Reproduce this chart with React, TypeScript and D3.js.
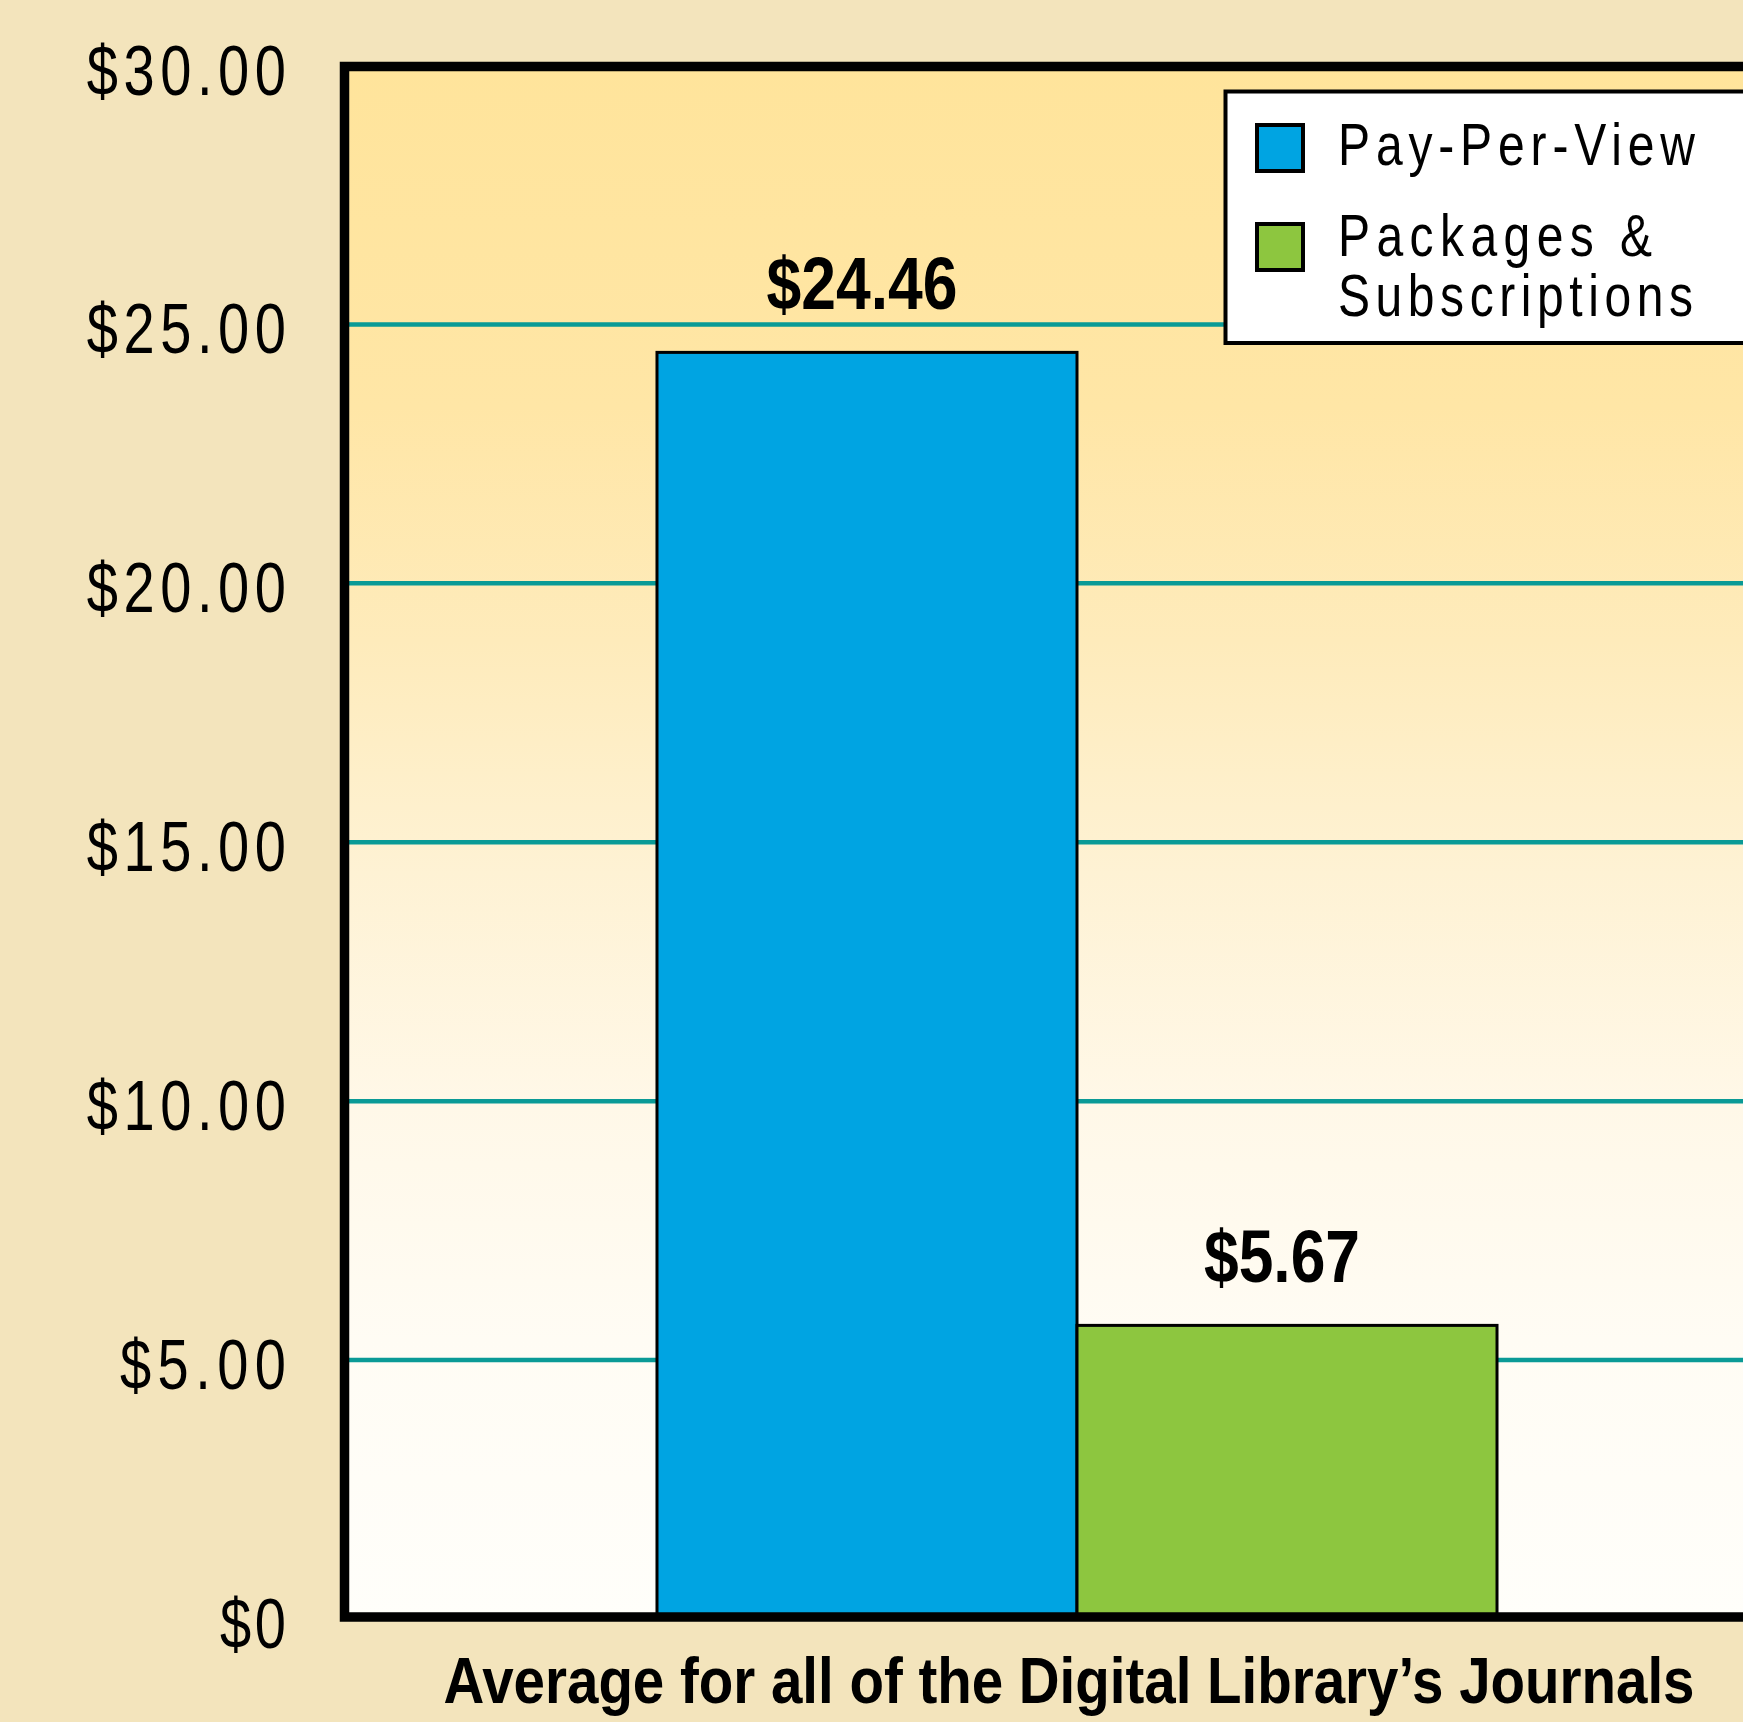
import React from "react";
import * as d3 from "d3";

const categories = ["Average for all of the Digital Library\u2019s Journals"];
const seriesNames = ["Pay-Per-View", "Packages & Subscriptions"];
const seriesValues = [24.46, 5.67];
const valueLabels = ["$24.46", "$5.67"];
const tickValues = [0, 5, 10, 15, 20, 25, 30];
const tickLabels = ["$0", "$5.00", "$10.00", "$15.00", "$20.00", "$25.00", "$30.00"];
const legendLines = [["Pay-Per-View"], ["Packages &", "Subscriptions"]];
const colors = ["#00A4E2", "#8DC63F"];

const W = 1743;
const H = 1722;
const plotLeft = 344.5;
const plotRight = 1809.5;
const plotTop = 65.5;
const plotBottom = 1619;

const FONT = "'Liberation Sans Narrow', 'Arial Narrow', 'Liberation Sans', Arial, sans-serif";
const LIGHT_FONT = "'Liberation Sans', Arial, sans-serif";

function SpacedText(props: {
  x: number;
  y: number;
  len: number;
  sx: number;
  size: number;
  children: string;
}) {
  const { x, y, len, sx, size, children } = props;
  return (
    <g transform={`translate(${x},${y}) scale(${sx},1)`}>
      <text
        x={0}
        y={0}
        fontFamily={LIGHT_FONT}
        fontSize={size}
        textLength={len / sx}
        lengthAdjust="spacing"
        fill="#000"
      >
        {children}
      </text>
    </g>
  );
}

export default function App() {
  const y = d3.scaleLinear().domain([0, 30]).range([plotBottom, plotTop]);
  const xCat = d3
    .scaleBand<string>()
    .domain(categories)
    .range([plotLeft, plotRight])
    .paddingInner(0)
    .paddingOuter(0.372);
  const xSeries = d3
    .scaleBand<string>()
    .domain(seriesNames)
    .range([0, xCat.bandwidth()])
    .padding(0);

  const charW = 33.3;
  const tickRight = 286;

  const legendTextLen = [[357], [314, 355]];
  const legendBaselines = [[165], [256, 316]];
  const legendSwatchY = [125, 224];

  const catX = xCat(categories[0]) as number;

  return (
    <svg
      width={W}
      height={H}
      style={{ position: "absolute", left: 0, top: 0 }}
      xmlns="http://www.w3.org/2000/svg"
    >
      <defs>
        <linearGradient id="plotGrad" x1="0" y1="0" x2="0" y2="1">
          <stop offset="0" stopColor="#FFE49B" />
          <stop offset="0.22" stopColor="#FFE6A6" />
          <stop offset="0.37" stopColor="#FEEBBB" />
          <stop offset="0.52" stopColor="#FEF2D4" />
          <stop offset="0.67" stopColor="#FFF8E8" />
          <stop offset="0.82" stopColor="#FFFCF4" />
          <stop offset="1" stopColor="#FFFEFA" />
        </linearGradient>
      </defs>
      <rect x={0} y={0} width={W} height={H} fill="#F3E4BC" />
      <rect
        x={plotLeft}
        y={plotTop}
        width={plotRight - plotLeft}
        height={plotBottom - plotTop}
        fill="url(#plotGrad)"
      />
      {/* gridlines */}
      {tickValues
        .filter((t) => t > 0 && t < 30)
        .map((t) => (
          <line
            key={t}
            x1={plotLeft}
            x2={plotRight}
            y1={y(t)}
            y2={y(t)}
            stroke="#0A9A96"
            strokeWidth={4.5}
          />
        ))}
      {/* bars */}
      {seriesNames.map((s, i) => {
        const bx = catX + (xSeries(s) as number);
        return (
          <rect
            key={s}
            x={bx}
            y={y(seriesValues[i])}
            width={xSeries.bandwidth()}
            height={y(0) - y(seriesValues[i])}
            fill={colors[i]}
            stroke="#000"
            strokeWidth={3}
          />
        );
      })}
      {/* value labels */}
      {seriesNames.map((s, i) => {
        const cx = catX + (xSeries(s) as number) + xSeries.bandwidth() / 2 - 5;
        const len = i === 0 ? 191 : 156;
        return (
          <text
            key={s}
            x={cx - len / 2}
            y={y(seriesValues[i]) - 43}
            fontFamily={FONT}
            fontWeight="bold"
            fontSize={74}
            textLength={len}
            lengthAdjust="spacingAndGlyphs"
            fill="#000"
          >
            {valueLabels[i]}
          </text>
        );
      })}
      {/* frame */}
      <path
        d={`M${plotRight + 50},${plotTop + 1} H${plotLeft} V${plotBottom - 2} H${plotRight + 50}`}
        fill="none"
        stroke="#000"
        strokeWidth={9.5}
      />
      {/* tick labels */}
      {tickValues.map((t, i) => {
        const len = tickLabels[i].length * charW - 0.5;
        return (
          <SpacedText key={t} x={tickRight - len} y={y(t) + 29} len={len} sx={0.8} size={70}>
            {tickLabels[i]}
          </SpacedText>
        );
      })}
      {/* x-axis category label */}
      <text
        x={443.5}
        y={1703}
        fontFamily={FONT}
        fontWeight="bold"
        fontSize={65}
        textLength={1251}
        lengthAdjust="spacingAndGlyphs"
        fill="#000"
      >
        {categories[0]}
      </text>
      {/* legend */}
      <rect x={1225.5} y={91.5} width={600} height={251.5} fill="#FFFFFF" stroke="#000" strokeWidth={4} />
      {seriesNames.map((s, i) => (
        <g key={s}>
          <rect
            x={1257}
            y={legendSwatchY[i]}
            width={46}
            height={46}
            fill={colors[i]}
            stroke="#000"
            strokeWidth={4}
          />
          {legendLines[i].map((line, j) => (
            <SpacedText
              key={j}
              x={1338}
              y={legendBaselines[i][j]}
              len={legendTextLen[i][j]}
              sx={0.8}
              size={60}
            >
              {line}
            </SpacedText>
          ))}
        </g>
      ))}
    </svg>
  );
}
